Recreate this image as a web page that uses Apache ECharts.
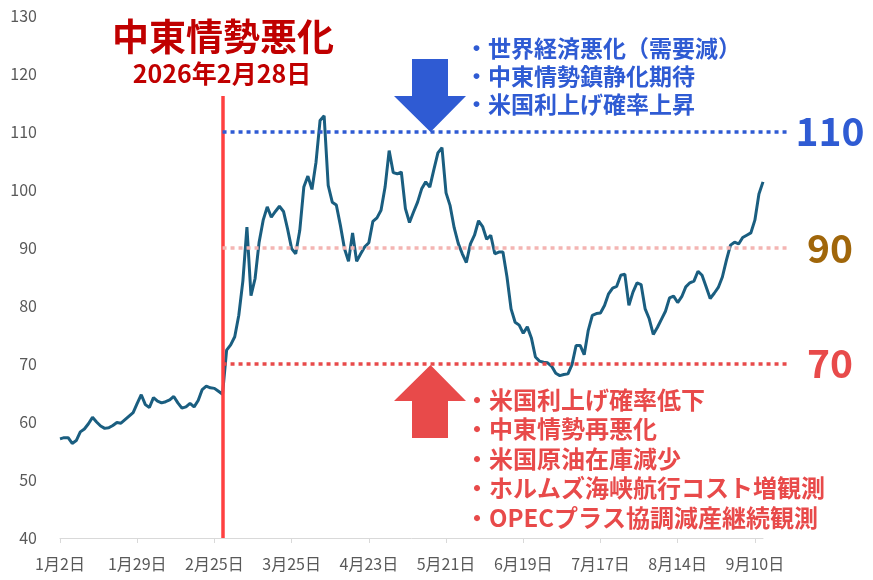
<!DOCTYPE html>
<html>
<head>
<meta charset="utf-8">
<title>原油価格</title>
<script src="https://cdn.jsdelivr.net/npm/echarts@6/dist/echarts.min.js"></script>
<style>
  html, body { margin: 0; padding: 0; background: #ffffff; }
  #chart { width: 873px; height: 580px; }
</style>
</head>
<body>
<div id="chart"></div>
<script>
// 日付（営業日）
var dates = [
  '1月2日','1月5日','1月6日','1月7日','1月8日','1月9日','1月12日','1月13日','1月14日','1月15日','1月16日','1月19日','1月20日','1月21日','1月22日','1月23日','1月26日','1月27日','1月28日','1月29日','1月30日',
  '2月2日','2月3日','2月4日','2月5日','2月6日','2月9日','2月10日','2月11日','2月12日','2月13日','2月16日','2月17日','2月18日','2月19日','2月20日','2月23日','2月24日','2月25日','2月26日','2月27日',
  '3月2日','3月3日','3月4日','3月5日','3月6日','3月9日','3月10日','3月11日','3月12日','3月13日','3月16日','3月17日','3月18日','3月19日','3月23日','3月24日','3月25日','3月26日','3月27日','3月30日','3月31日',
  '4月1日','4月2日','4月7日','4月8日','4月9日','4月10日','4月13日','4月14日','4月15日','4月16日','4月17日','4月20日','4月21日','4月22日','4月23日','4月24日','4月27日','4月28日','4月29日','4月30日',
  '5月1日','5月5日','5月6日','5月7日','5月8日','5月11日','5月12日','5月13日','5月14日','5月15日','5月18日','5月19日','5月20日','5月21日','5月22日','5月26日','5月27日','5月28日','5月29日',
  '6月1日','6月2日','6月3日','6月4日','6月5日','6月8日','6月9日','6月10日','6月11日','6月12日','6月15日','6月16日','6月17日','6月19日','6月22日','6月23日','6月24日','6月25日','6月26日','6月29日','6月30日',
  '7月1日','7月2日','7月6日','7月7日','7月8日','7月9日','7月10日','7月13日','7月14日','7月15日','7月16日','7月17日','7月20日','7月21日','7月22日','7月23日','7月24日','7月27日','7月28日','7月29日','7月30日','7月31日',
  '8月3日','8月4日','8月5日','8月6日','8月7日','8月10日','8月12日','8月13日','8月14日','8月17日','8月18日','8月19日','8月20日','8月21日','8月24日','8月25日','8月26日','8月27日','8月28日','8月31日',
  '9月1日','9月2日','9月3日','9月4日','9月7日','9月8日','9月9日','9月10日','9月11日','9月14日'
];

// 価格
var prices = [
  57.1, 57.3, 57.3, 56.3, 56.8, 58.3, 58.8, 59.7, 60.8, 60.0,
  59.3, 58.9, 59.0, 59.4, 59.9, 59.8, 60.4, 61.0, 61.6, 63.2,
  64.7, 63.0, 62.5, 64.2, 63.6, 63.3, 63.5, 63.8, 64.4, 63.3,
  62.4, 62.6, 63.2, 62.6, 63.7, 65.6, 66.2, 65.9, 65.8, 65.3,
  64.8, 72.4, 73.3, 74.7, 78.4, 84.3, 93.6, 81.8, 84.7, 91.0,
  94.8, 97.1, 95.3, 96.3, 97.2, 96.3, 93.3, 89.9, 89.0, 93.0,
  100.5, 102.4, 100.1, 104.8, 112.0, 112.8, 100.8, 97.9, 97.4, 93.9,
  89.9, 87.7, 92.6, 87.7, 89.0, 90.2, 90.9, 94.6, 95.2, 96.5,
  100.5, 106.8, 103.0, 102.8, 103.1, 96.8, 94.4, 96.2, 97.9, 100.2,
  101.4, 100.5, 103.5, 106.4, 107.3, 99.5, 97.3, 93.5, 90.8, 89.0,
  87.5, 90.7, 92.2, 94.7, 93.7, 91.5, 92.2, 89.0, 89.3, 89.3,
  85.0, 79.5, 77.2, 76.7, 75.3, 76.4, 74.5, 71.2, 70.5, 70.3,
  70.2, 69.6, 68.4, 68.0, 68.2, 68.3, 69.9, 73.2, 73.2, 71.6,
  75.8, 78.4, 78.7, 78.8, 80.1, 82.1, 83.1, 83.4, 85.3, 85.5,
  80.1, 82.4, 84.0, 83.7, 79.5, 77.8, 75.1, 76.3, 77.7, 79.1,
  81.4, 81.7, 80.6, 81.6, 83.3, 84.0, 84.3, 86.0, 85.3, 83.3,
  81.3, 82.2, 83.2, 85.0, 87.9, 90.5, 91.0, 90.7, 91.8, 92.2,
  92.6, 94.8, 99.3, 101.4
];

// 注目水準
var levels = [110, 90, 70];
var levelColors = ['#2F5BD3', '#F4B5B3', '#E84A4A'];
var levelTextColors = ['#2F5BD3', '#A0660A', '#E84A4A'];

var shockDate = '2月27日';
var shockTitle = '中東情勢悪化';
var shockSub = '2026年2月28日';

var downFactors = ['・世界経済悪化（需要減）', '・中東情勢鎮静化期待', '・米国利上げ確率上昇'];
var upFactors = ['・米国利上げ確率低下', '・中東情勢再悪化', '・米国原油在庫減少', '・ホルムズ海峡航行コスト増観測', '・OPECプラス協調減産継続観測'];

var FONT = '"Noto Sans CJK JP", "Noto Sans", sans-serif';

var markData = [];
// 中東情勢悪化の縦線
markData.push([
  { coord: [shockDate, 116.2], lineStyle: { color: '#FF4040', width: 3.5, type: 'solid' } },
  { coord: [shockDate, 40] }
]);
for (var i = 0; i < levels.length; i++) {
  markData.push([
    { xAxis: shockDate, yAxis: levels[i], lineStyle: { color: levelColors[i], width: 3.5, type: [4, 4] } },
    { yAxis: levels[i], x: 787 }
  ]);
}

var graphics = [];
graphics.push({
  type: 'text', x: 223, y: 37, z: 100,
  style: { text: shockTitle, fill: '#C00000', font: 'bold 37px ' + FONT, textAlign: 'center', textVerticalAlign: 'middle' }
});
graphics.push({
  type: 'text', x: 222, y: 73, z: 100,
  style: { text: shockSub, fill: '#C00000', font: 'bold 25px ' + FONT, textAlign: 'center', textVerticalAlign: 'middle' }
});
// 矢印
graphics.push({
  type: 'polygon', z: 100,
  shape: { points: [[412, 59], [448, 59], [448, 96], [466, 96], [430.5, 132], [394, 96], [412, 96]] },
  style: { fill: '#2F5BD3' }
});
graphics.push({
  type: 'polygon', z: 100,
  shape: { points: [[430.5, 365], [466, 401], [448, 401], [448, 438], [412, 438], [412, 401], [394, 401]] },
  style: { fill: '#E84A4A' }
});
graphics.push({
  type: 'text', x: 465, y: 34, z: 100,
  style: { text: downFactors.join('\n'), fill: '#2F5BD3', font: 'bold 23px ' + FONT, lineHeight: 28 }
});
graphics.push({
  type: 'text', x: 465, y: 385, z: 100,
  style: { text: upFactors.join('\n'), fill: '#E84A4A', font: 'bold 24px ' + FONT, lineHeight: 29.5 }
});
var levelY = [131.5, 248, 363];
for (var j = 0; j < levels.length; j++) {
  graphics.push({
    type: 'text', x: 830, y: levelY[j], z: 100,
    style: { text: String(levels[j]), fill: levelTextColors[j], font: 'bold 39px ' + FONT, textAlign: 'center', textVerticalAlign: 'middle' }
  });
}

var chart = echarts.init(document.getElementById('chart'));
chart.setOption({
  animation: false,
  backgroundColor: '#ffffff',
  grid: { left: 60, right: 110, top: 16, bottom: 42 },
  xAxis: {
    type: 'category',
    data: dates,
    boundaryGap: false,
    axisLine: { lineStyle: { color: '#D9D9D9', width: 1 } },
    axisTick: { interval: 18, length: 5, lineStyle: { color: '#D9D9D9' } },
    axisLabel: { interval: 18, color: '#595959', fontSize: 16, margin: 18, fontFamily: FONT }
  },
  yAxis: {
    type: 'value',
    min: 40,
    max: 130,
    interval: 10,
    axisLine: { show: false },
    axisTick: { show: false },
    splitLine: { show: false },
    axisLabel: { color: '#595959', fontSize: 16, margin: 23, fontFamily: FONT }
  },
  series: [{
    type: 'line',
    data: prices,
    showSymbol: false,
    symbol: 'none',
    lineStyle: { color: '#1A5E80', width: 3 },
    markLine: {
      silent: true,
      symbol: ['none', 'none'],
      label: { show: false },
      animation: false,
      data: markData
    }
  }],
  graphic: graphics
});
</script>
</body>
</html>
